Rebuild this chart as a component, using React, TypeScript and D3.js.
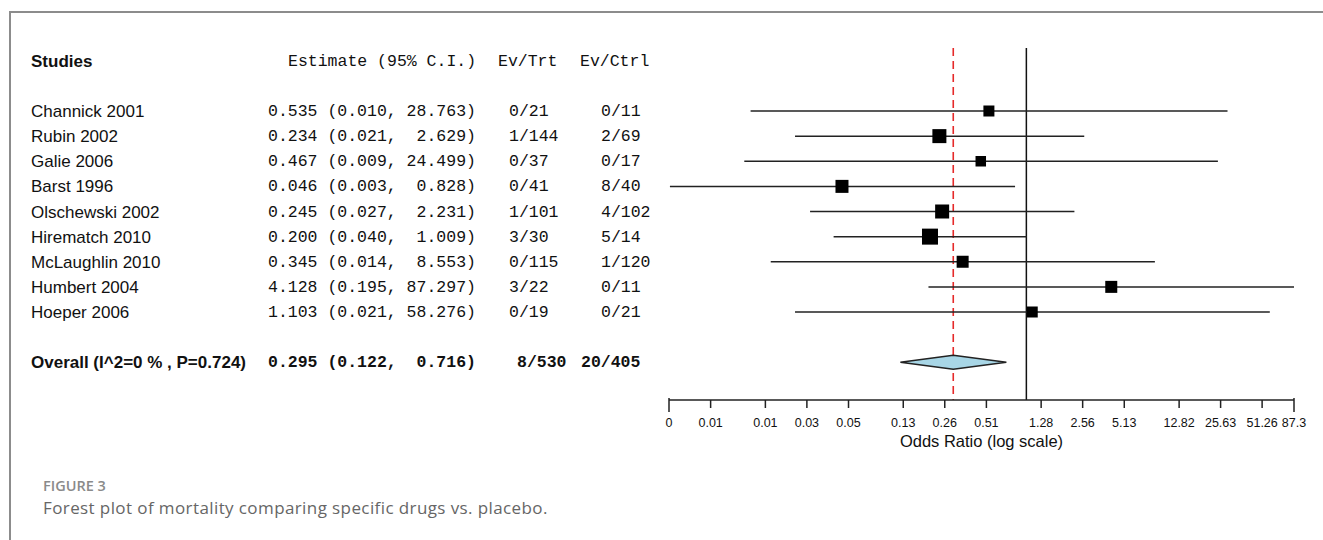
import React from "react";
import * as d3 from "d3";

// ---- data ----
const studies = [
  "Channick 2001", "Rubin 2002", "Galie 2006", "Barst 1996", "Olschewski 2002",
  "Hirematch 2010", "McLaughlin 2010", "Humbert 2004", "Hoeper 2006",
];
const estimates = [0.535, 0.234, 0.467, 0.046, 0.245, 0.2, 0.345, 4.128, 1.103];
const lower = [0.01, 0.021, 0.009, 0.0026, 0.027, 0.04, 0.014, 0.195, 0.021];
const upper = [28.763, 2.629, 24.499, 0.828, 2.231, 1.009, 8.553, 87.297, 58.276];
const evTrt = [0, 1, 0, 0, 1, 3, 0, 3, 0];
const nTrt = [21, 144, 37, 41, 101, 30, 115, 22, 19];
const evCtrl = [0, 2, 0, 8, 4, 5, 1, 0, 0];
const nCtrl = [11, 69, 17, 40, 102, 14, 120, 11, 21];
const boxWeight = [11, 14, 10.5, 13, 14, 16, 12, 12, 11];

const overallLabel = "Overall (I^2=0 % , P=0.724)";
const overallEst = 0.295;
const overallLower = 0.122;
const overallUpper = 0.716;

const tickValues = [0.00256, 0.00513, 0.0128, 0.0256, 0.0513, 0.128, 0.256, 0.513, 1.28, 2.56, 5.13, 12.82, 25.63, 51.26, 87.3];
const tickLabels = ["0", "0.01", "0.01", "0.03", "0.05", "0.13", "0.26", "0.51", "1.28", "2.56", "5.13", "12.82", "25.63", "51.26", "87.3"];

const SANS = "'Liberation Sans', Arial, Helvetica, sans-serif";
const MONO = "'Liberation Mono', 'Courier New', monospace";
const CAPTION = "'Open Sans', sans-serif";

const fmtCI = (e: number, lo: number, hi: number) =>
  `${e.toFixed(3)} (${lo.toFixed(3)}, ${hi.toFixed(3).padStart(6, " ")})`;

export default function App() {
  const width = 1323;
  const height = 540;

  const x = d3.scaleLog().domain([0.00256, 87.3]).range([669, 1294]);
  const y = d3.scaleLinear().domain([0, 8]).range([111, 312]);
  const box = d3.scaleLinear().domain([0, 16]).range([0, 16]);

  const headerY = y(-2);
  const overallY = y(10);
  const axisY = 400;
  const topY = 48;

  const colEst = 268;
  const colTrt = 509;
  const colCtrl = 601;

  const diamond = [
    [x(overallLower), overallY],
    [x(overallEst), overallY - 7],
    [x(overallUpper), overallY],
    [x(overallEst), overallY + 7],
  ] as [number, number][];

  const [x0, x1] = x.range();

  return (
    <div style={{ position: "absolute", left: 0, top: 0 }}>
      <svg width={width} height={height} style={{ display: "block", background: "#fff" }}>
        {/* frame */}
        <path d={`M10,${height} L10,12 L${width},12`} fill="none" stroke="#8c8c8c" strokeWidth={2} />

        {/* header */}
        <g fontSize={17} fill="#111">
          <text x={31} y={headerY + 6} fontFamily={SANS} fontWeight="bold">Studies</text>
          <text x={288} y={headerY + 5} fontFamily={MONO} fontSize={16.5} style={{ whiteSpace: "pre" }}>Estimate (95% C.I.)</text>
          <text x={498} y={headerY + 5} fontFamily={MONO} fontSize={16.5}>Ev/Trt</text>
          <text x={580} y={headerY + 5} fontFamily={MONO} fontSize={16.5}>Ev/Ctrl</text>
        </g>

        {/* study rows */}
        {studies.map((s, i) => (
          <g key={s} fill="#111">
            <text x={31} y={y(i) + 6} fontFamily={SANS} fontSize={17}>{s}</text>
            <text x={colEst} y={y(i) + 5} fontFamily={MONO} fontSize={16.5} style={{ whiteSpace: "pre" }}>
              {fmtCI(estimates[i], lower[i], upper[i])}
            </text>
            <text x={colTrt} y={y(i) + 5} fontFamily={MONO} fontSize={16.5}>{`${evTrt[i]}/${nTrt[i]}`}</text>
            <text x={colCtrl} y={y(i) + 5} fontFamily={MONO} fontSize={16.5}>{`${evCtrl[i]}/${nCtrl[i]}`}</text>
          </g>
        ))}

        {/* overall row */}
        <g fill="#111" fontWeight="bold">
          <text x={31} y={overallY + 6} fontFamily={SANS} fontSize={17}>{overallLabel}</text>
          <text x={colEst} y={overallY + 5} fontFamily={MONO} fontSize={16.5} style={{ whiteSpace: "pre" }}>
            {fmtCI(overallEst, overallLower, overallUpper)}
          </text>
          <text x={517} y={overallY + 5} fontFamily={MONO} fontSize={16.5}>{`${d3.sum(evTrt)}/${d3.sum(nTrt)}`}</text>
          <text x={581} y={overallY + 5} fontFamily={MONO} fontSize={16.5}>{`${d3.sum(evCtrl)}/${d3.sum(nCtrl)}`}</text>
        </g>

        {/* reference lines */}
        <line x1={x(1)} x2={x(1)} y1={topY} y2={axisY} stroke="#111" strokeWidth={1.5} />
        <line x1={x(overallEst)} x2={x(overallEst)} y1={topY} y2={axisY} stroke="#e52a2a" strokeWidth={1.6} strokeDasharray="8,5" />

        {/* confidence intervals and boxes */}
        {studies.map((s, i) => {
          const sz = box(boxWeight[i]);
          return (
            <g key={s + "-ci"}>
              <line x1={x(lower[i])} x2={x(upper[i])} y1={y(i)} y2={y(i)} stroke="#222" strokeWidth={1.5} />
              <rect x={x(estimates[i]) - sz / 2} y={y(i) - sz / 2} width={sz} height={sz} fill="#000" />
            </g>
          );
        })}

        {/* pooled diamond */}
        <polygon points={diamond.map(p => p.join(",")).join(" ")} fill="#a8d6e6" stroke="#222" strokeWidth={1.5} />

        {/* x axis */}
        <g>
          <line x1={x0} x2={x1} y1={axisY} y2={axisY} stroke="#222" strokeWidth={1.5} />
          {tickValues.map((t, i) => {
            const end = i === 0 || i === tickValues.length - 1;
            return (
              <g key={i} transform={`translate(${x(t)},${axisY})`}>
                <line y1={end ? -2 : 0} y2={end ? 12 : 8} stroke="#222" strokeWidth={1.5} />
                <text y={27} textAnchor="middle" fontFamily={SANS} fontSize={12.5} fill="#111">{tickLabels[i]}</text>
              </g>
            );
          })}
          <text x={(x0 + x1) / 2} y={447} textAnchor="middle" fontFamily={SANS} fontSize={16.5} fill="#111">Odds Ratio (log scale)</text>
        </g>

        {/* caption */}
        <text x={43} y={491} fontFamily={CAPTION} fontSize={14.5} fontWeight={600} fill="#8a8a8a">FIGURE 3</text>
        <text x={43} y={514} fontFamily={CAPTION} fontSize={17} letterSpacing={0.4} fill="#666">
          Forest plot of mortality comparing specific drugs vs. placebo.
        </text>
      </svg>
    </div>
  );
}
